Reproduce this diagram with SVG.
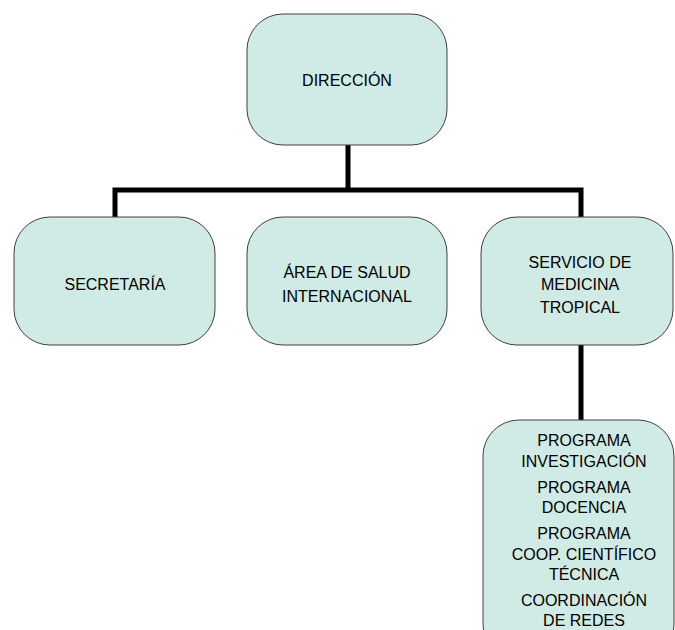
<svg xmlns="http://www.w3.org/2000/svg" width="675" height="630" viewBox="0 0 675 630">
<style>
.box{fill:#D0EAE5;stroke:#404040;stroke-width:1}
.t{font-family:"Liberation Sans",Arial,sans-serif;font-size:16px;fill:#000;text-anchor:middle}
.c{fill:none;stroke:#000;stroke-width:5}
</style>
<rect width="675" height="630" fill="#fff"/>
<g id="connectors">
<path class="c" d="M348 145V190M115 217V190H581V217M581 345V420"/>
</g>
<g id="direccion">
<rect class="box" x="247" y="14" width="200" height="131" rx="36"/>
<text class="t" x="347" y="86">DIRECCIÓN</text>
</g>
<g id="secretaria">
<rect class="box" x="14" y="217" width="201" height="128" rx="36"/>
<text class="t" x="115" y="290">SECRETARÍA</text>
</g>
<g id="area">
<rect class="box" x="247" y="217" width="200" height="128" rx="36"/>
<text class="t" x="347" y="278">ÁREA DE SALUD</text>
<text class="t" x="347" y="302">INTERNACIONAL</text>
</g>
<g id="servicio">
<rect class="box" x="481" y="217" width="192" height="128" rx="36"/>
<text class="t" x="580" y="268">SERVICIO DE</text>
<text class="t" x="580" y="290">MEDICINA</text>
<text class="t" x="580" y="313">TROPICAL</text>
</g>
<g id="programas">
<rect class="box" x="483" y="420" width="191" height="240" rx="36"/>
<text class="t" x="584" y="446">PROGRAMA</text>
<text class="t" x="584" y="467">INVESTIGACIÓN</text>
<text class="t" x="584" y="493">PROGRAMA</text>
<text class="t" x="584" y="513">DOCENCIA</text>
<text class="t" x="584" y="539">PROGRAMA</text>
<text class="t" x="584" y="560">COOP. CIENTÍFICO</text>
<text class="t" x="584" y="580">TÉCNICA</text>
<text class="t" x="584" y="606">COORDINACIÓN</text>
<text class="t" x="584" y="626">DE REDES</text>
</g>
</svg>
